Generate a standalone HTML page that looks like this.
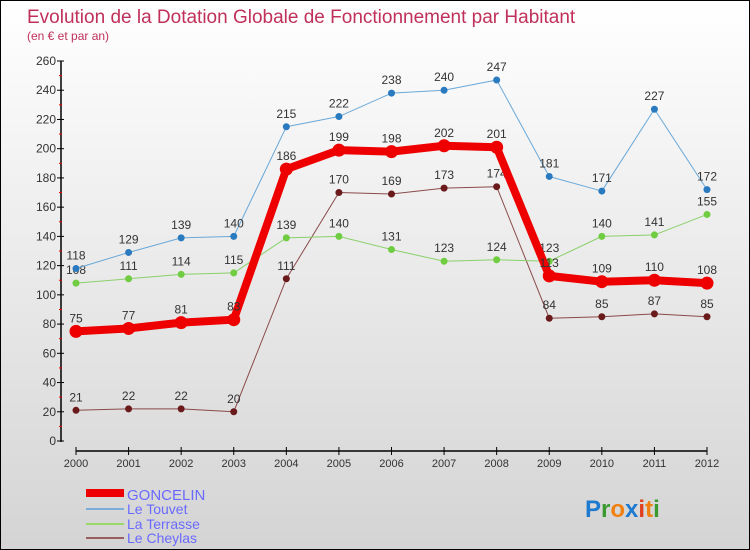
<!DOCTYPE html>
<html><head><meta charset="utf-8"><style>
html,body{margin:0;padding:0}
body{width:750px;height:550px;overflow:hidden;font-family:"Liberation Sans",sans-serif}
#wrap{position:relative;width:748px;height:548px;border:1px solid #000;background:linear-gradient(#ffffff,#d4d4d4)}
</style></head><body>
<div id="wrap">
<svg id="chart" width="748" height="548" style="position:absolute;left:0;top:0">
<text x="26" y="22" font-size="19" fill="#c0305a">Evolution de la Dotation Globale de Fonctionnement par Habitant</text>
<text x="26" y="39" font-size="12" fill="#c0305a">(en € et par an)</text>
<g id="axes"></g><g id="series"></g>
<g>
<rect x="85" y="488" width="38" height="8" fill="#e00"/>
<text x="126" y="499" font-size="15" fill="#6a6aff">GONCELIN</text>
<rect x="85" y="507" width="38" height="2" fill="#7aaed8"/>
<text x="126" y="513" font-size="14" fill="#6a6aff">Le Touvet</text>
<rect x="85" y="522" width="38" height="2" fill="#9ad86a"/>
<text x="126" y="528" font-size="14" fill="#6a6aff">La Terrasse</text>
<rect x="85" y="536" width="38" height="2" fill="#9a6060"/>
<text x="126" y="542" font-size="14" fill="#6a6aff">Le Cheylas</text>
</g>
<text x="584" y="516" font-size="24" font-weight="bold"><tspan fill="#1e7ad0">P</tspan><tspan fill="#3a9a30">r</tspan><tspan fill="#f08010">o</tspan><tspan fill="#1e7ad0">x</tspan><tspan fill="#e04020">i</tspan><tspan fill="#f08010">t</tspan><tspan fill="#3a9a30">i</tspan></text>
</svg>
</div>
<script>
const years=[2000,2001,2002,2003,2004,2005,2006,2007,2008,2009,2010,2011,2012];
const goncelin=[75,77,81,83,186,199,198,202,201,113,109,110,108];
const touvet=[118,129,139,140,215,222,238,240,247,181,171,227,172];
const terrasse=[108,111,114,115,139,140,131,123,124,123,140,141,155];
const cheylas=[21,22,22,20,111,170,169,173,174,84,85,87,85];
const yTicks=[0,20,40,60,80,100,120,140,160,180,200,220,240,260];
const NS="http://www.w3.org/2000/svg";
const X=i=>75+i*(631/12);
const Y=v=>440-v*(380/260);
function mk(tag,attrs,parent){const e=document.createElementNS(NS,tag);for(const k in attrs)e.setAttribute(k,attrs[k]);parent.appendChild(e);return e;}
const ax=document.getElementById('axes');
mk('line',{x1:60,y1:Y(260),x2:60,y2:441,stroke:'#000','stroke-width':1.5},ax);
mk('line',{x1:75,y1:450,x2:706,y2:450,stroke:'#000','stroke-width':1.5},ax);
yTicks.forEach((t,i)=>{
 mk('line',{x1:56,y1:Y(t),x2:63,y2:Y(t),stroke:'#000'},ax);
 if(i<yTicks.length-1) mk('line',{x1:58,y1:Y(t+10),x2:61,y2:Y(t+10),stroke:'#e00'},ax);
 const tx=mk('text',{x:55,y:Y(t)+4,'font-size':12,fill:'#333','text-anchor':'end'},ax);
 tx.textContent=t;
 
 
});
years.forEach((yr,i)=>{
 mk('line',{x1:X(i),y1:446,x2:X(i),y2:454,stroke:'#000'},ax);
 const tx=mk('text',{x:X(i),y:466,'font-size':11,fill:'#333','text-anchor':'middle'},ax);
 tx.textContent=yr;
 
 
});
const sg=document.getElementById('series');
function draw(name,data,color,dot,w,r){
 const g=mk('g',{},sg);
 
 
 mk('polyline',{points:data.map((v,i)=>X(i)+','+Y(v)).join(' '),fill:'none',stroke:color,'stroke-width':w,'stroke-linejoin':'round'},g);
 data.forEach((v,i)=>{
  const c=mk('circle',{cx:X(i),cy:Y(v),r:r,fill:dot},g);
  
  
  const t=mk('text',{x:X(i),y:Y(v)-9,'font-size':12,fill:'#333','text-anchor':'middle'},g);
  t.textContent=v;
  
  
 });
}
draw('le-cheylas',cheylas,'#8a4a4a','#6a1a1a',1,3.5);
draw('la-terrasse',terrasse,'#8ad06a','#70cc40',1,3.5);
draw('le-touvet',touvet,'#6aa8d8','#2a7ac0',1,3.5);
draw('goncelin',goncelin,'#ee0000','#ee0000',8,6.5);
</script>
</body></html>
